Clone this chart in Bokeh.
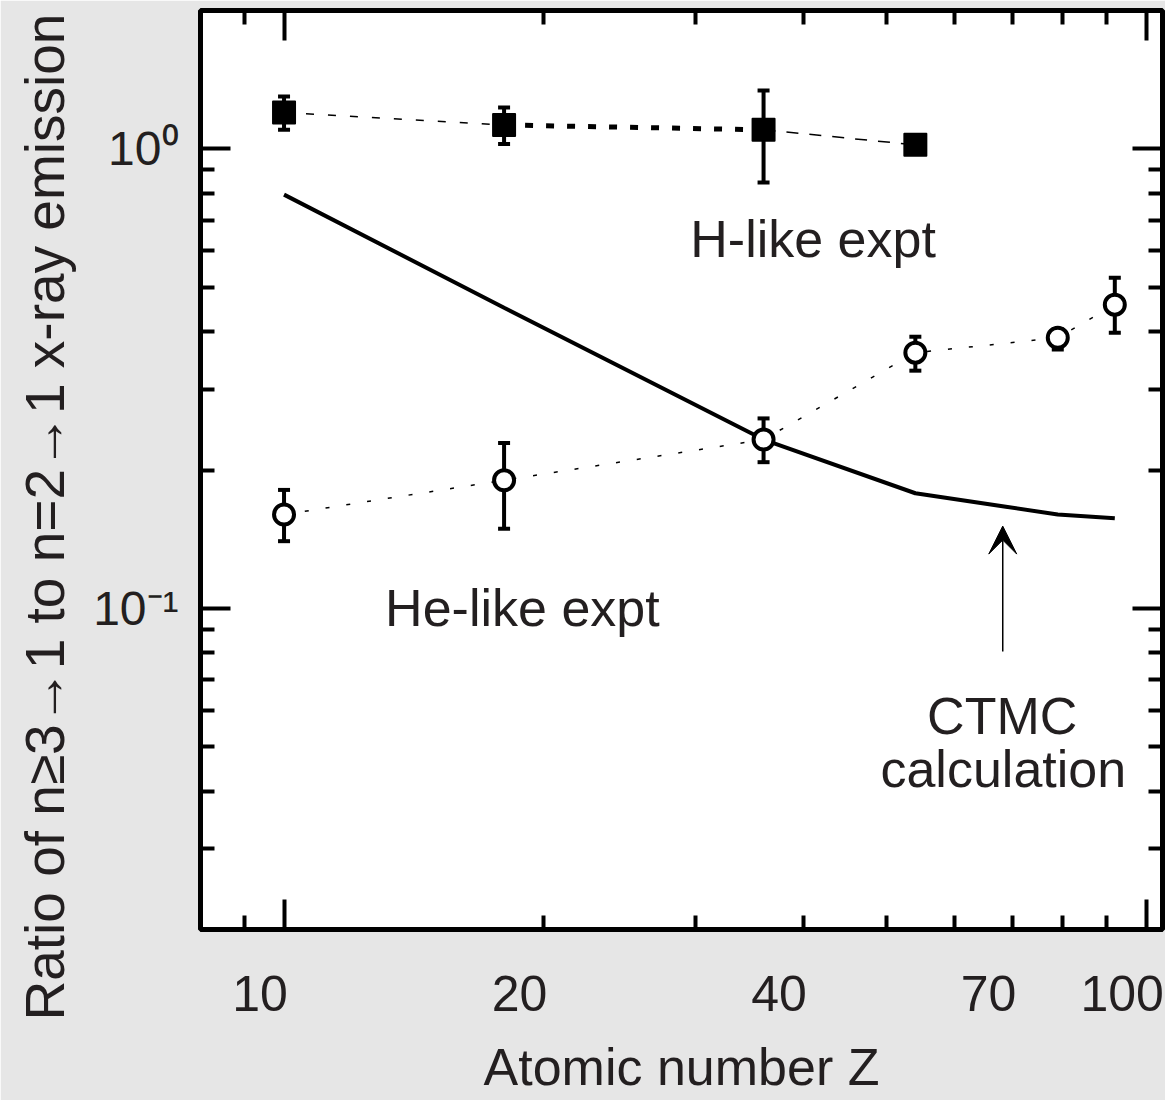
from bokeh.plotting import figure
from bokeh.models import (LogAxis, LogScale, FixedTicker, Range1d, Whisker, ColumnDataSource,
                          Label, Arrow, VeeHead, TeeHead, Title)
from bokeh.embed import file_html
from bokeh.resources import INLINE

# ---------------- data ----------------
z_h = [10, 18, 36, 54]
ratio_h = [1.20, 1.127, 1.10, 1.02]
ratio_h_upper = [1.30, 1.23, 1.34, 1.02]
ratio_h_lower = [1.10, 1.025, 0.845, 1.02]

z_he = [10, 18, 36, 54, 79, 92]
ratio_he = [0.160, 0.190, 0.233, 0.360, 0.388, 0.458]
ratio_he_upper = [0.181, 0.229, 0.259, 0.390, 0.405, 0.524]
ratio_he_lower = [0.140, 0.149, 0.208, 0.329, 0.366, 0.398]

z_ctmc = [10, 18, 36, 54, 79, 92]
ratio_ctmc = [0.795, 0.451, 0.233, 0.178, 0.160, 0.157]

x_major_ticks = [10, 100]
x_minor_ticks = [9, 20, 30, 40, 50, 60, 70, 80, 90]
x_tick_labels = [10, 20, 40, 70, 100]
y_major_ticks = [0.1, 1]
y_minor_ticks = [0.02, 0.03, 0.04, 0.05, 0.06, 0.07, 0.08, 0.09,
                 0.2, 0.3, 0.4, 0.5, 0.6, 0.7, 0.8, 0.9]
y_tick_labels = {0.1: "10\u207b\u00b9", 1: "10\u2070"}

x_title = "Atomic number Z"
y_title = "Ratio of n\u22653\u21921 to n=2\u21921 x-ray emission"

label_h = "H-like expt"
label_he = "He-like expt"
label_ctmc = ["CTMC", "calculation"]

# ---------------- styling ----------------
FONT = "Liberation Sans, Arial, Helvetica, sans-serif"
INK = "#231f20"
GRAY = "#e6e6e6"

x_start, x_end = 8.0, 104.5
y_start, y_end = 0.02, 2.0
label_shift = 1.066  # tick labels sit slightly left of their ticks in the reference

p = figure(width=1165, height=1100, x_axis_type="log", y_axis_type="log",
           x_range=Range1d(x_start, x_end), y_range=Range1d(y_start, y_end),
           output_backend="svg", toolbar_location=None,
           min_border_left=200, min_border_right=3, min_border_top=10, min_border_bottom=171)
p.border_fill_color = GRAY
p.background_fill_color = "white"
p.outline_line_color = "black"
p.outline_line_width = 5
p.xgrid.visible = False
p.ygrid.visible = False


def style_ticks(ax, major=30, minor=14):
    ax.major_tick_in = major
    ax.major_tick_out = 0
    ax.minor_tick_in = minor
    ax.minor_tick_out = 0
    ax.major_tick_line_width = 4
    ax.minor_tick_line_width = 4
    ax.major_tick_line_color = "black"
    ax.minor_tick_line_color = "black"
    ax.axis_line_color = None


def hide_labels(ax, ticks):
    ax.major_label_overrides = {v: "" for v in ticks}
    ax.major_label_text_font_size = "1px"
    ax.major_label_text_alpha = 0
    ax.major_label_standoff = 0


# bottom axis: ticks only
xb = p.xaxis[0]
xb.ticker = FixedTicker(ticks=x_major_ticks, minor_ticks=x_minor_ticks)
style_ticks(xb)
hide_labels(xb, x_major_ticks)

# bottom label axis
p.extra_x_ranges = {"lbl": Range1d(x_start * label_shift, x_end * label_shift)}
p.extra_x_scales = {"lbl": LogScale()}
xl = LogAxis(x_range_name="lbl", ticker=FixedTicker(ticks=x_tick_labels))
xl.major_label_overrides = {v: str(v) for v in x_tick_labels}
xl.major_tick_in = 0
xl.major_tick_out = 0
xl.minor_tick_in = 0
xl.minor_tick_out = 0
xl.major_tick_line_color = None
xl.minor_tick_line_color = None
xl.axis_line_color = None
xl.major_label_standoff = 46
xl.major_label_text_font = FONT
xl.major_label_text_font_size = "50px"
xl.major_label_text_color = INK
xl.axis_label = x_title
xl.axis_label_text_font = FONT
xl.axis_label_text_font_size = "52px"
xl.axis_label_text_font_style = "normal"
xl.axis_label_text_color = INK
xl.axis_label_standoff = 24
p.add_layout(xl, "below")

# top axis: ticks only
xt = LogAxis(ticker=FixedTicker(ticks=x_major_ticks, minor_ticks=x_minor_ticks))
style_ticks(xt)
hide_labels(xt, x_major_ticks)
p.add_layout(xt, "above")

# left axis
yl = p.yaxis[0]
yl.ticker = FixedTicker(ticks=y_major_ticks, minor_ticks=y_minor_ticks)
style_ticks(yl)
yl.major_label_overrides = y_tick_labels
yl.major_label_text_font = FONT
yl.major_label_text_font_size = "48px"
yl.major_label_text_color = INK
yl.major_label_standoff = 22

# right axis: ticks only
yr = LogAxis(ticker=FixedTicker(ticks=y_major_ticks, minor_ticks=y_minor_ticks))
style_ticks(yr)
hide_labels(yr, y_major_ticks)
p.add_layout(yr, "right")

# y-axis title, running upward from slightly below the frame bottom as in the reference
p.add_layout(Title(text=y_title, align="left", offset=-91, vertical_align="top",
                   standoff=26, text_font=FONT, text_font_size="55px",
                   text_font_style="normal", text_color=INK), "left")

# ---------------- data layers ----------------
# CTMC calculation
p.line(z_ctmc, ratio_ctmc, line_color="black", line_width=4)

# H-like connecting segments (styles differ per segment in the reference)
p.line(z_h[0:2], ratio_h[0:2], line_color="black", line_width=1.5, line_dash="8 14")
p.line(z_h[1:3], ratio_h[1:3], line_color="black", line_width=5, line_dash="8 13")
p.line(z_h[2:4], ratio_h[2:4], line_color="black", line_width=1.5, line_dash="12 11")

# He-like connecting dotted line
p.line(z_he, ratio_he, line_color="black", line_width=1.5, line_dash="4 17")

# error bars
src_h = ColumnDataSource(dict(x=z_h, y=ratio_h, hi=ratio_h_upper, lo=ratio_h_lower))
src_he = ColumnDataSource(dict(x=z_he, y=ratio_he, hi=ratio_he_upper, lo=ratio_he_lower))
for src in (src_h, src_he):
    w = Whisker(source=src, base="x", upper="hi", lower="lo", dimension="height",
                line_color="black", line_width=4, level="underlay",
                upper_head=TeeHead(size=12, line_width=4, line_color="black"),
                lower_head=TeeHead(size=12, line_width=4, line_color="black"))
    p.add_layout(w)

# markers
p.scatter("x", "y", source=src_h, marker="square", size=22, fill_color="black",
          line_color="black", line_width=2, line_join="round")
p.scatter("x", "y", source=src_he, marker="circle", size=20, fill_color="white",
          line_color="black", line_width=4)

# ---------------- annotations ----------------
def text_label(x, y, txt, align="left"):
    lab = Label(x=x, y=y, text=txt, text_font=FONT, text_font_size="52px",
                text_color=INK, text_align=align, text_baseline="alphabetic")
    p.add_layout(lab)

text_label(29.6, 0.637, label_h)
text_label(13.1, 0.100, label_he)
text_label(68.1, 0.0582, label_ctmc[0], align="center")
text_label(68.3, 0.0447, label_ctmc[1], align="center")

p.add_layout(Arrow(x_start=68.2, y_start=0.0805, x_end=68.2, y_end=0.151,
                   line_color="black", line_width=1.5,
                   end=VeeHead(size=28, fill_color="black", line_color="black", line_width=1)))

open("out.html", "w").write(file_html(p, INLINE))
